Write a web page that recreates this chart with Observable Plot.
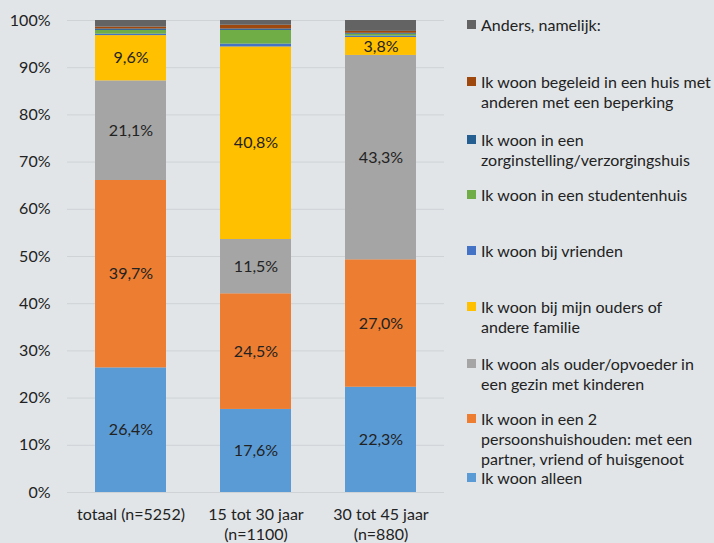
<!DOCTYPE html>
<html>
<head>
<meta charset="utf-8">
<script src="https://cdn.jsdelivr.net/npm/d3@7"></script>
<script src="https://cdn.jsdelivr.net/npm/@observablehq/plot@0.6"></script>
<style>
  html, body { margin: 0; padding: 0; background: #e1e5e8; }
  #wrap { position: relative; width: 714px; height: 543px; background: #e1e5e8; font-family: Lato, "Open Sans", sans-serif; }
  #chart { position: absolute; left: 0; top: 0; }
  #legend { position: absolute; left: 0; top: 0; width: 714px; height: 543px; pointer-events: none; }
  .li { position: absolute; left: 467px; font-size: 16px; line-height: 20px; color: #222; white-space: pre; }
  .li.tight { line-height: 15px; }
  .sw { position: absolute; left: 0; top: 5px; width: 9px; height: 9px; }
  .li.tight .sw { top: 3px; }
  .lt { position: absolute; left: 14px; top: 0; }
</style>
</head>
<body>
<div id="wrap">
  <div id="chart"></div>
  <div id="legend"></div>
</div>
<script>
// Categories (x axis)
const groups = ["totaal (n=5252)", "15 tot 30 jaar\n(n=1100)", "30 tot 45 jaar\n(n=880)"];

// Series, bottom to top of the stack
const series = [
  "Ik woon alleen",
  "Ik woon in een 2\npersoonshuishouden: met een\npartner, vriend of huisgenoot",
  "Ik woon als ouder/opvoeder in\neen gezin met kinderen",
  "Ik woon bij mijn ouders of\nandere familie",
  "Ik woon bij vrienden",
  "Ik woon in een studentenhuis",
  "Ik woon in een\nzorginstelling/verzorgingshuis",
  "Ik woon begeleid in een huis met\nanderen met een beperking",
  "Anders, namelijk:"
];
const colors = ["#5b9bd5", "#ed7d31", "#a5a5a5", "#ffc000", "#4472c4", "#70ad47", "#255e91", "#9e480e", "#636363"];

// Values (percent) per series, in order of groups
const alleen     = [26.4, 17.6, 22.3];
const tweePers   = [39.7, 24.5, 27.0];
const ouder      = [21.1, 11.5, 43.3];
const ouders     = [9.6, 40.8, 3.8];
const vrienden   = [0.3, 0.6, 0.3];
const student    = [0.8, 2.9, 0.4];
const zorg       = [0.3, 0.3, 0.2];
const begeleid   = [0.4, 0.8, 0.4];
const anders     = [1.4, 1.0, 2.3];
const values = [alleen, tweePers, ouder, ouders, vrienden, student, zorg, begeleid, anders];
const labelled = [true, true, true, true, false, false, false, false, false];

const yTicks = [0, 10, 20, 30, 40, 50, 60, 70, 80, 90, 100];

const data = [];
series.forEach((s, si) => {
  groups.forEach((g, gi) => {
    data.push({group: g, series: s, si, value: values[si][gi], label: labelled[si]});
  });
});

const fmt = v => v.toFixed(1).replace(".", ",") + "%";

const chart = Plot.plot({
  width: 460,
  height: 543,
  marginLeft: 67,
  marginRight: 16,
  marginTop: 20,
  marginBottom: 51,
  style: {background: "transparent", fontFamily: "Lato, 'Open Sans', sans-serif", fontSize: "16px", color: "#222"},
  x: {domain: groups, paddingInner: 0.43, paddingOuter: 0.215, label: null},
  y: {domain: [0, 100], label: null},
  color: {domain: series, range: colors},
  marks: [
    Plot.gridY(yTicks, {stroke: "#cfd3d6", strokeOpacity: 1, strokeWidth: 1}),
    Plot.barY(data, Plot.stackY({x: "group", y: "value", z: "series", fill: "series", order: series})),
    Plot.text(data.filter(d => d.label), Plot.stackY({x: "group", y: "value", z: "series", order: series, text: d => fmt(d.value), fill: "#222", fontSize: 16})),
    Plot.axisY(yTicks, {tickSize: 0, tickPadding: 17, tickFormat: d => d + "%", label: null, fontSize: 16, fill: "#222"}),
    Plot.axisX({tickSize: 0, tickPadding: 13, label: null, lineHeight: 1.25, fontSize: 16, fill: "#222"})
  ]
});
document.getElementById("chart").appendChild(chart);

// Legend (HTML), order top to bottom as in the reference
const legendTops = [15, 72, 130, 185, 241, 297, 354, 409, 470];
const legendOrder = [8, 7, 6, 5, 4, 3, 2, 1, 0];
const leg = document.getElementById("legend");
legendOrder.forEach((si, i) => {
  const item = document.createElement("div");
  item.className = "li" + (si === 0 ? " tight" : "");
  item.style.top = legendTops[i] + "px";
  const sw = document.createElement("div");
  sw.className = "sw";
  sw.style.background = colors[si];
  const t = document.createElement("div");
  t.className = "lt";
  t.textContent = series[si];
  item.appendChild(sw);
  item.appendChild(t);
  leg.appendChild(item);
});
</script>
</body>
</html>
